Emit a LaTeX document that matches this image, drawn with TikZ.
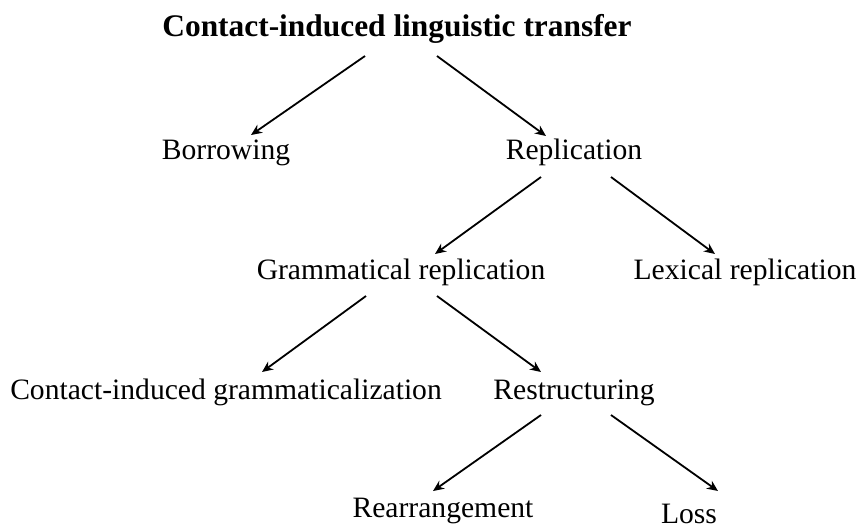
\documentclass[tikz,border=0pt]{standalone}
\usepackage{fontspec}
\setmainfont{Liberation Serif}
\usetikzlibrary{arrows.meta}
\begin{document}
\begin{tikzpicture}[x=0.5pt,y=-0.5pt,
  lbl/.style={anchor=base,inner sep=0pt,outer sep=0pt,text height=10pt,text depth=3pt,font=\fontsize{14.8}{18}\selectfont},
  ttl/.style={lbl,font=\fontsize{15.7}{18}\selectfont\bfseries},
  edge/.style={line width=0.9pt,-{Stealth[length=5.5pt,width=4.8pt,inset=1.8pt]}}]
\useasboundingbox (0,0) rectangle (857,527);
\node[ttl] (t) at (397,36) {Contact-induced linguistic transfer};
\node[lbl] (b) at (226,159) {Borrowing};
\node[lbl] (r) at (574,159) {Replication};
\node[lbl] (g) at (401,279) {Grammatical replication};
\node[lbl] (l) at (745,279) {Lexical replication};
\node[lbl] (c) at (226,399) {Contact-induced grammaticalization};
\node[lbl] (s) at (574,399) {Restructuring};
\node[lbl] (ra) at (443,517) {Rearrangement};
\node[lbl] (lo) at (689,523) {Loss};
\draw[edge] ([xshift=-16pt,yshift=-7pt]t.south) -- ([xshift=12.5pt,yshift=2pt]b.north);
\draw[edge] ([xshift=20pt,yshift=-7pt]t.south) -- ([xshift=-14pt,yshift=1.5pt]r.north);
\draw[edge] ([xshift=-16.5pt,yshift=-6pt]r.south) -- ([xshift=17pt,yshift=2.5pt]g.north);
\draw[edge] ([xshift=18.5pt,yshift=-6pt]r.south) -- ([xshift=-15pt,yshift=2.5pt]l.north);
\draw[edge] ([xshift=-17.5pt,yshift=-5.5pt]g.south) -- ([xshift=18pt,yshift=3.5pt]c.north);
\draw[edge] ([xshift=18pt,yshift=-5.5pt]g.south) -- ([xshift=-16.5pt,yshift=3.5pt]s.north);
\draw[edge] ([xshift=-16.5pt,yshift=-5pt]s.south) -- ([xshift=-5pt,yshift=3pt]ra.north);
\draw[edge] ([xshift=18.5pt,yshift=-5pt]s.south) -- ([xshift=14.5pt,yshift=6pt]lo.north);
\end{tikzpicture}
\end{document}
